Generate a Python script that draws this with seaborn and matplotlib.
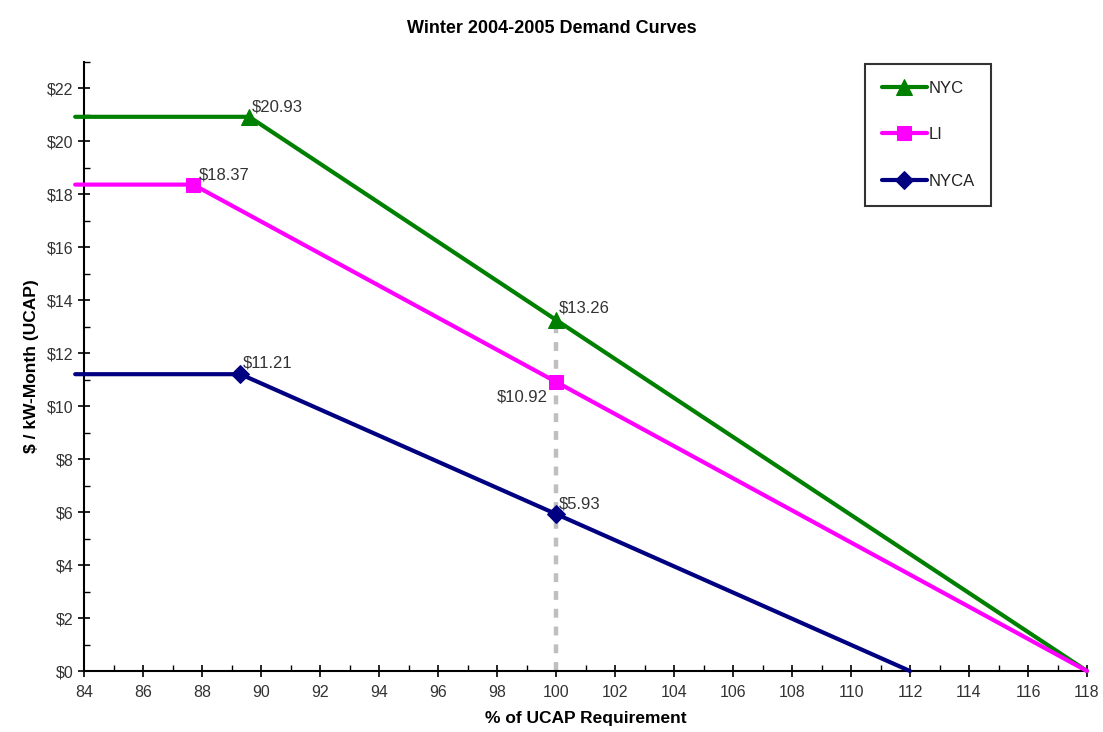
import matplotlib
matplotlib.use("Agg")
import matplotlib.pyplot as plt
import seaborn as sns
import pandas as pd
from matplotlib.ticker import MultipleLocator, FuncFormatter

sns.set_theme(style="white")
plt.rcParams['font.family'] = ['Liberation Sans', 'DejaVu Sans']

series = ["NYC", "LI", "NYCA"]
colors = ["#008000", "#FF00FF", "#000080"]
markers = ["^", "s", "D"]
msizes = [11, 9.5, 9]
# x points: start, knee, 100%, zero-crossing
nyc_x = [83.7, 89.6, 100, 118]
nyc_y = [20.93, 20.93, 13.26, 0]
li_x = [83.7, 87.7, 100, 118]
li_y = [18.37, 18.37, 10.92, 0]
nyca_x = [83.7, 89.3, 100, 112]
nyca_y = [11.21, 11.21, 5.93, 0]
xs = [nyc_x, li_x, nyca_x]
ys = [nyc_y, li_y, nyca_y]
ref_x = [100, 100]
ref_y = [0, 13.26]

fig = plt.figure(figsize=(11.03, 7.32), dpi=100)
ax = fig.add_axes([0.0762, 0.0833, 0.9093, 0.832])

ax.plot(ref_x, ref_y, color="#BFBFBF", linewidth=3.2, linestyle=(0, (2, 2)), zorder=1)

for name, c, m, ms, x, y in zip(series, colors, markers, msizes, xs, ys):
    df = pd.DataFrame({"x": x, "y": y})
    sns.lineplot(data=df, x="x", y="y", ax=ax, color=c, linewidth=3, marker=m, markersize=ms,
                 markeredgecolor=c, markevery=[1, 2], label=name, sort=False,
                 clip_on=False, zorder=3)

# value labels
lab_kw = dict(fontsize=12, color="#333333")
ax.annotate(f"${nyc_y[1]:.2f}", (nyc_x[1], nyc_y[1]), xytext=(2, 4), textcoords="offset points", **lab_kw)
ax.annotate(f"${li_y[1]:.2f}", (li_x[1], li_y[1]), xytext=(4, 4), textcoords="offset points", **lab_kw)
ax.annotate(f"${nyca_y[1]:.2f}", (nyca_x[1], nyca_y[1]), xytext=(2, 5), textcoords="offset points", **lab_kw)
ax.annotate(f"${nyc_y[2]:.2f}", (nyc_x[2], nyc_y[2]), xytext=(2, 5), textcoords="offset points", **lab_kw)
ax.annotate(f"${li_y[2]:.2f}", (li_x[2], li_y[2]), xytext=(-6, -14), textcoords="offset points", ha="right", **lab_kw)
ax.annotate(f"${nyca_y[2]:.2f}", (nyca_x[2], nyca_y[2]), xytext=(2, 4), textcoords="offset points", **lab_kw)

ax.set_xlim(84, 118)
ax.set_ylim(0, 23)
ax.xaxis.set_major_locator(MultipleLocator(2))
ax.xaxis.set_minor_locator(MultipleLocator(1))
ax.yaxis.set_major_locator(MultipleLocator(2))
ax.yaxis.set_minor_locator(MultipleLocator(1))
ax.yaxis.set_major_formatter(FuncFormatter(lambda v, p: f"${v:.0f}"))
ax.tick_params(which="major", direction="inout", length=8, width=1.2, color="black",
               labelsize=11.5, labelcolor="#333333", bottom=True, left=True)
ax.tick_params(which="minor", direction="in", length=4, width=1, color="black", bottom=True, left=True)
ax.tick_params(axis="x", pad=6)

for s in ["top", "right"]:
    ax.spines[s].set_visible(False)
for s in ["left", "bottom"]:
    ax.spines[s].set_color("black")
    ax.spines[s].set_linewidth(1.5)

ax.set_xlabel("% of UCAP Requirement", fontsize=12.5, fontweight="bold", labelpad=8, color="black")
ax.set_ylabel("$ / kW-Month (UCAP)", fontsize=12.5, fontweight="bold", labelpad=6, color="black")
fig.suptitle("Winter 2004-2005 Demand Curves", fontsize=13, fontweight="bold", y=0.972, color="black")

leg = ax.legend(loc="upper left", bbox_to_anchor=(865 / 1103, 1 - 64 / 732), bbox_transform=fig.transFigure,
                frameon=True, fancybox=False, edgecolor="black", fontsize=12, labelspacing=1.9,
                handlelength=2.7, handletextpad=0.1, borderpad=1.0, borderaxespad=0)
leg.get_frame().set_linewidth(1.5)
for t in leg.get_texts():
    t.set_color("#222222")

fig.savefig("out.png", dpi=100)
